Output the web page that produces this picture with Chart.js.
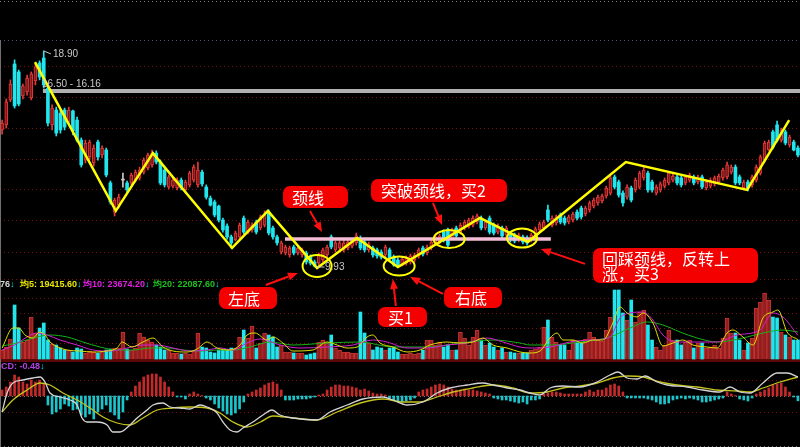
<!DOCTYPE html>
<html>
<head>
<meta charset="utf-8">
<script src="https://cdn.jsdelivr.net/npm/chart.js@4/dist/chart.umd.min.js"></script>
<style>
  html, body { margin: 0; padding: 0; background: #000; }
  #wrap { position: relative; width: 800px; height: 447px; overflow: hidden; background: #000; }
  #chart { position: absolute; left: 0; top: 0; }
  .lbl { position: absolute; font-family: "Liberation Sans", sans-serif; font-size: 10px; line-height: 10px; white-space: nowrap; color: #c8c8c8; }
  .hdr { position: absolute; font-family: "Liberation Sans", sans-serif; font-size: 9px; line-height: 10px; font-weight: bold; white-space: nowrap; }
  .hdr b { color: #00e8f0; }
  .box { position: absolute; box-sizing: border-box; background: #f40000; color: #fff; border-radius: 7px;
         font-family: "Noto Sans CJK SC", sans-serif; font-size: 16px; white-space: nowrap; }
</style>
</head>
<body>
<div id="wrap">
  <canvas id="chart" width="800" height="447"></canvas>

  <div class="lbl" style="left:53px;top:49px">18.90</div>
  <div class="lbl" style="left:42px;top:79px">16.50 - 16.16</div>
  <div class="lbl" style="left:325px;top:262px">9.93</div>

  <div class="hdr" style="left:0;top:279px;color:#d8d8d8">76<b>↓</b></div>
  <div class="hdr" style="left:20px;top:279px;color:#e8e800">均5: 19415.60<b>↓</b></div>
  <div class="hdr" style="left:83px;top:279px;color:#e020e0">均10: 23674.20<b>↓</b></div>
  <div class="hdr" style="left:153px;top:279px;color:#20c020">均20: 22087.60<b>↓</b></div>
  <div class="hdr" style="left:1px;top:361px;color:#b040e0">CD: -0.48<b>↓</b></div>

  <div class="box" style="left:283px;top:186px;width:65px;height:22px;line-height:22px;padding-left:9px">颈线</div>
  <div class="box" style="left:371px;top:179px;width:136px;height:23px;line-height:23px;padding-left:10px">突破颈线，买2</div>
  <div class="box" style="left:219px;top:287px;width:58px;height:22px;line-height:22px;padding-left:9px">左底</div>
  <div class="box" style="left:378px;top:307px;width:49px;height:20px;line-height:20px;padding-left:10px">买1</div>
  <div class="box" style="left:444px;top:287px;width:58px;height:21px;line-height:21px;padding-left:11px">右底</div>
  <div class="box" style="left:593px;top:248px;width:165px;height:35px;line-height:15px;padding:3px 0 0 9px;white-space:normal">回踩颈线，反转上<br>涨，买3</div>
</div>

<script>
// ============================================
// Data
// ============================================

const openP = [
  15.62, 15.83, 16.87, 18.36, 18.03, 17.03, 17.20, 16.95, 17.66, 18.40,
  18.61, 17.36, 15.83, 16.45, 16.32, 16.45, 15.95, 16.41, 16.03, 15.20,
  14.37, 14.50, 14.25, 15.12, 14.58, 14.79, 13.42, 12.21, 12.50, 13.54,
  13.42, 13.42, 13.54, 13.63, 13.87, 14.04, 14.17, 14.66, 14.29, 13.96,
  13.25, 13.29, 13.21, 13.54, 13.13, 13.34, 13.54, 13.34, 13.87, 13.25,
  12.79, 12.63, 12.46, 11.88, 11.63, 11.18, 11.05, 11.18, 11.96, 11.38,
  11.47, 11.80, 11.55, 11.67, 12.21, 11.55, 11.18, 10.55, 10.51, 10.43,
  10.76, 10.51, 10.43, 10.51, 10.34, 10.14, 10.09, 10.22, 10.43, 11.18,
  10.64, 10.72, 10.64, 10.72, 10.80, 10.93, 11.13, 10.97, 10.64, 10.72,
  10.64, 10.55, 10.43, 10.64, 10.34, 10.22, 10.01, 10.09, 10.14, 10.22,
  10.39, 10.72, 10.51, 10.72, 10.93, 10.97, 11.38, 11.47, 11.13, 11.55,
  11.38, 11.55, 11.63, 11.67, 11.80, 11.96, 11.55, 11.96, 11.67, 11.38,
  11.55, 11.26, 11.34, 11.26, 11.05, 11.18, 11.13, 11.05, 11.22, 11.47,
  11.55, 12.30, 11.67, 11.76, 12.09, 11.96, 11.80, 11.88, 12.21, 12.38,
  12.13, 12.30, 12.46, 12.59, 12.67, 12.88, 13.00, 13.67, 13.46, 13.00,
  12.83, 13.21, 13.13, 13.25, 13.63, 13.83, 13.46, 13.00, 13.13, 13.29,
  13.42, 13.54, 13.67, 13.63, 13.42, 13.54, 13.67, 13.46, 13.67, 13.21,
  13.29, 13.38, 13.46, 13.63, 13.67, 13.87, 14.08, 13.67, 13.21, 13.46,
  13.34, 13.54, 13.83, 14.37, 14.79, 15.54, 15.83, 15.20, 15.54, 15.00,
  15.12, 14.87
];

const closeP = [
  15.91, 16.79, 17.53, 16.62, 16.70, 17.45, 17.78, 17.95, 18.24, 17.82,
  17.49, 15.91, 16.53, 15.49, 15.62, 15.74, 16.45, 15.58, 15.20, 14.17,
  15.08, 15.12, 14.87, 14.50, 14.87, 13.75, 12.63, 12.71, 12.83, 13.54,
  13.13, 13.75, 13.87, 13.96, 14.37, 14.58, 14.66, 14.29, 13.42, 13.34,
  13.67, 13.54, 13.54, 13.21, 13.46, 13.83, 14.08, 13.96, 13.38, 12.83,
  12.50, 12.09, 11.88, 11.47, 11.18, 10.93, 11.34, 11.67, 11.38, 11.80,
  11.67, 11.38, 12.01, 12.09, 11.34, 11.18, 10.93, 10.93, 10.76, 10.72,
  10.51, 10.72, 10.64, 10.14, 10.09, 9.97, 10.43, 10.64, 10.76, 10.76,
  10.93, 10.93, 10.93, 10.97, 11.05, 11.22, 10.72, 10.64, 10.89, 10.43,
  10.39, 10.34, 10.76, 10.30, 10.01, 9.97, 10.26, 10.30, 10.39, 10.43,
  10.64, 10.47, 10.76, 10.97, 11.18, 11.22, 11.05, 10.84, 11.47, 11.22,
  11.67, 11.80, 11.88, 11.96, 12.05, 11.55, 11.80, 11.38, 11.34, 11.63,
  11.22, 11.55, 11.05, 11.01, 11.26, 10.97, 10.93, 11.26, 11.51, 11.72,
  11.80, 11.88, 11.96, 12.01, 11.80, 11.76, 12.01, 12.13, 11.96, 12.01,
  12.38, 12.59, 12.71, 12.83, 12.88, 13.21, 13.63, 13.25, 12.92, 12.59,
  13.25, 12.71, 13.54, 13.83, 13.96, 13.13, 13.13, 13.25, 13.38, 13.54,
  13.83, 13.71, 13.42, 13.34, 13.67, 13.75, 13.42, 13.67, 13.25, 13.46,
  13.54, 13.63, 13.71, 13.96, 14.17, 14.08, 13.42, 13.42, 13.46, 13.21,
  13.67, 14.08, 14.50, 15.08, 15.12, 14.91, 15.20, 15.62, 15.08, 15.33,
  14.79, 14.58
];

const highP = [
  16.03, 16.91, 17.70, 18.53, 18.11, 17.53, 17.90, 18.03, 18.36, 18.49,
  18.90, 17.45, 16.66, 16.57, 16.45, 16.53, 16.57, 16.45, 16.16, 15.29,
  15.20, 15.20, 15.00, 15.20, 14.96, 14.87, 13.50, 12.79, 12.96, 13.83,
  13.50, 13.83, 13.96, 14.08, 14.46, 14.66, 14.79, 14.75, 14.37, 14.04,
  13.75, 13.63, 13.63, 13.63, 13.54, 13.91, 14.17, 14.29, 13.96, 13.34,
  12.88, 12.71, 12.50, 11.96, 11.72, 11.26, 11.42, 11.76, 12.05, 11.88,
  11.76, 11.88, 12.09, 12.26, 12.30, 11.63, 11.26, 11.01, 10.84, 10.80,
  10.84, 10.80, 10.72, 10.59, 10.43, 10.22, 10.51, 10.72, 10.84, 11.26,
  11.01, 11.01, 11.05, 11.05, 11.13, 11.34, 11.22, 11.05, 10.97, 10.80,
  10.72, 10.64, 10.84, 10.72, 10.43, 10.30, 10.34, 10.39, 10.47, 10.51,
  10.72, 10.80, 10.84, 11.05, 11.26, 11.30, 11.47, 11.55, 11.55, 11.63,
  11.76, 11.88, 11.96, 12.05, 12.13, 12.05, 11.88, 12.05, 11.76, 11.72,
  11.63, 11.63, 11.42, 11.34, 11.34, 11.26, 11.22, 11.34, 11.59, 11.80,
  11.88, 12.50, 12.05, 12.09, 12.17, 12.05, 12.09, 12.21, 12.30, 12.46,
  12.46, 12.67, 12.79, 12.92, 12.96, 13.29, 13.71, 13.75, 13.54, 13.09,
  13.34, 13.29, 13.63, 13.91, 14.08, 13.91, 13.54, 13.34, 13.46, 13.63,
  13.91, 13.79, 13.75, 13.71, 13.75, 13.83, 13.75, 13.75, 13.75, 13.54,
  13.63, 13.71, 13.79, 14.04, 14.29, 14.17, 14.17, 13.75, 13.54, 13.54,
  13.75, 14.17, 14.58, 15.16, 15.20, 15.62, 15.99, 15.70, 15.62, 15.41,
  15.20, 14.96
];

const lowP = [
  15.45, 15.70, 16.79, 16.53, 16.62, 16.91, 17.07, 16.87, 17.49, 17.70,
  17.36, 15.79, 15.62, 15.37, 15.49, 15.62, 15.83, 15.41, 15.12, 14.08,
  14.25, 14.37, 14.12, 14.37, 14.46, 13.67, 12.54, 12.05, 12.38, 13.25,
  13.04, 13.34, 13.46, 13.54, 13.79, 13.96, 14.08, 14.21, 13.34, 13.25,
  13.17, 13.21, 13.13, 13.13, 13.04, 13.25, 13.46, 13.25, 13.29, 12.75,
  12.46, 12.01, 11.80, 11.38, 11.09, 10.72, 11.01, 11.09, 11.30, 11.30,
  11.38, 11.30, 11.47, 11.59, 11.26, 11.09, 10.84, 10.47, 10.43, 10.34,
  10.43, 10.43, 10.34, 10.05, 10.01, 9.93, 10.01, 10.14, 10.34, 10.68,
  10.55, 10.64, 10.55, 10.64, 10.72, 10.84, 10.64, 10.55, 10.55, 10.34,
  10.30, 10.26, 10.34, 10.22, 9.96, 9.95, 9.97, 10.01, 10.05, 10.14,
  10.30, 10.39, 10.43, 10.64, 10.84, 10.89, 10.97, 10.76, 11.05, 11.13,
  11.30, 11.47, 11.55, 11.59, 11.72, 11.47, 11.47, 11.30, 11.26, 11.30,
  11.13, 11.18, 10.97, 10.93, 10.97, 10.89, 10.84, 10.97, 11.13, 11.38,
  11.47, 11.80, 11.59, 11.67, 11.72, 11.67, 11.72, 11.80, 11.88, 11.92,
  12.05, 12.21, 12.38, 12.50, 12.59, 12.79, 12.92, 13.17, 12.83, 12.46,
  12.75, 12.63, 13.04, 13.17, 13.54, 13.04, 13.04, 12.92, 13.04, 13.21,
  13.34, 13.46, 13.34, 13.25, 13.34, 13.46, 13.34, 13.38, 13.17, 13.13,
  13.21, 13.29, 13.38, 13.54, 13.59, 13.79, 13.34, 13.34, 13.13, 13.09,
  13.25, 13.46, 13.75, 14.29, 14.75, 14.83, 15.12, 15.12, 15.00, 14.91,
  14.75, 14.50
];

const volume = [
   9000, 12000, 20000, 54000, 31000, 17000, 19000, 42000, 26000, 31000,
  36000, 19000, 15000, 14000, 11000,  9000,  9000,  7000, 11000, 10000,
   6000,  8000,  7000,  6000,  8000,  9000, 10000, 11000, 11000, 27000,
  10000,  9000, 11000, 26000, 22000, 19000, 17000, 14000, 12000,  9000,
   9000,  6000,  6000,  5000,  6000,  5000,  8000, 26000, 12000, 11000,
   7000,  6000,  9000,  9000,  9000, 11000, 11000, 22000, 29000, 21000,
  33000, 11000, 16000, 26000, 24000, 22000, 12000, 14000,  7000,  7000,
   6000,  6000,  6000,  4000,  5000,  6000, 17000, 19000, 16000, 24000,
  11000,  9000,  7000,  7000,  6000,  6000, 47000, 26000, 16000,  9000,
  12000, 11000,  9000, 11000, 12000,  7000,  5000,  5000,  6000,  5000,
   6000,  9000, 19000, 19000, 14000, 17000, 12000, 14000,  9000,  9000,
  27000, 21000, 14000, 22000, 29000, 19000, 14000, 16000, 12000,  9000,
  11000,  7000,  7000,  6000,  6000,  6000,  6000,  9000, 10000, 12000,
  32000, 39000, 22000, 17000, 14000, 14000,  9000, 19000, 17000, 16000,
  20000, 27000, 22000, 19000, 18000, 29000, 42000, 69000, 69000, 46000,
  39000, 59000, 37000, 47000, 49000, 34000, 19000, 12000,  9000, 14000,
  29000, 19000, 19000, 14000, 17000, 19000, 11000, 16000, 16000, 11000,
  12000, 14000, 11000, 21000, 41000, 26000, 26000, 19000,  9000, 16000,
  21000, 51000, 57000, 66000, 59000, 42000, 41000, 27000, 24000, 22000,
  19000, 19000
];

const macdHist = [
  0.6, 0.9, 1.4, 2.1, 1.9, 1.4, 1.2, 1.6, 1.4, 1.6,
  1.2, -0.9, -1.8, -1.6, -1.3, -0.8, -1.0, -1.4, -1.3, -1.9,
  -2.1, -1.8, -2.3, -1.6, -1.3, -0.9, -1.6, -1.9, -2.3, -1.6,
  -0.4, 0.4, 1.0, 1.4, 1.9, 2.1, 2.2, 2.2, 1.9, 1.4,
  0.9, 0.4, -0.1, -0.1, -0.3, 0.2, 0.4, 0.2, 0.05, -0.2,
  -0.4, -0.8, -1.2, -1.5, -1.8, -1.9, -1.7, -1.3, -0.6, 0.2,
  0.4, 0.6, 0.8, 1.1, 1.3, 1.4, 1.2, 0.6, -0.4, -0.4,
  -0.4, -0.3, -0.3, -0.3, -0.2, -0.1, 0.1, 0.2, 0.6, 0.9,
  1.1, 1.1, 1.0, 1.0, 0.9, 0.8, 0.6, 0.7, 0.5, 0.3,
  0.2, 0.2, 0.1, -0.2, -0.4, -0.5, -0.6, -0.5, -0.4, -0.2,
  0.4, 0.6, 0.7, 0.9, 1.1, 1.2, 1.1, 0.9, 0.7, 0.6,
  0.6, 0.7, 0.6, 0.6, 0.5, 0.4, 0.3, 0.2, -0.2, -0.3,
  -0.4, -0.4, -0.5, -0.6, -0.7, -0.6, -0.8, -0.4, -0.4, -0.3,
  0.2, 0.3, 0.4, 0.4, 0.3, 0.2, 0.2, 0.2, 0.2, 0.2,
  0.4, 0.6, 0.4, 0.6, 0.6, 0.8, 1.1, 1.2, 1.0, 0.4,
  -0.2, -0.2, -0.2, -0.2, -0.2, -0.3, -0.4, -0.6, -0.8, -0.8,
  -0.7, -0.4, -0.3, -0.2, -0.3, -0.2, -0.3, -0.4, -0.6, -0.6,
  -0.5, -0.4, -0.3, -0.2, 0.4, 0.2, 0.05, -0.3, -0.4, -0.5,
  -0.2, 0.2, 0.4, 0.6, 0.8, 1.1, 1.2, 1.3, 0.9, 0.4,
  -0.1, -0.48
];

// volume moving averages, [candle index, volume]
const ma5 = [
  [0, 11000], [2.6, 31000], [4, 31000], [5.5, 24000], [7.4, 21000], [9, 27000], [10.3, 24000],
  [11.5, 17000], [13.4, 12000], [15.6, 9000], [18.7, 8000], [21.8, 7000], [25.2, 8000],
  [27.6, 11000], [28.8, 17000], [31.2, 12000], [33.8, 17000], [36.2, 21000], [38.6, 12000],
  [41, 8000], [44.4, 7000], [46.8, 10000], [49.2, 17000], [51.6, 11000], [54.7, 9000],
  [57.1, 14000], [58.8, 24000], [60.7, 26000], [63.6, 19000], [65, 22000], [67.4, 16000],
  [69.8, 8000], [74.6, 9000], [78, 17000], [80.4, 14000], [82.8, 11000], [85.2, 12000],
  [87.6, 22000], [89, 24000], [90.7, 16000], [93.8, 12000], [97.2, 7000], [100.3, 9000],
  [102.7, 14000], [106.8, 17000], [109.9, 16000], [113, 17000], [115.4, 21000], [117.8, 14000],
  [121.2, 11000], [124.3, 7000], [126.7, 6000], [129.1, 8000], [131.5, 21000], [133.2, 26000],
  [134.6, 19000], [137, 19000], [139.4, 16000], [141.8, 19000], [144.2, 19000], [146.6, 36000],
  [148.3, 52000], [150, 46000], [152.4, 42000], [153.8, 46000], [156.2, 36000], [158.6, 13000],
  [161, 16000], [163.4, 19000], [165.8, 14000], [169.2, 12000], [171.6, 11000], [174, 26000],
  [175.4, 29000], [177.8, 22000], [180.2, 14000], [182.6, 41000], [185, 47000], [186.2, 49000],
  [188.4, 27000], [191, 19416]
];
const ma10 = [
  [0, 9000], [3, 14000], [6, 22000], [8.4, 26000], [10.8, 24000], [13.9, 19000], [18, 14000],
  [21.8, 9000], [25.9, 8000], [30, 11000], [33.8, 14000], [37.2, 14000], [41, 11000],
  [45.1, 8000], [49.2, 9000], [52.3, 11000], [55.4, 9000], [58.8, 16000], [61.9, 20000],
  [66.7, 14000], [71.5, 11000], [78, 12000], [84.2, 14000], [89, 19000], [92.4, 17000],
  [97.2, 11000], [102, 11000], [106.8, 14000], [111.6, 16000], [116.4, 21000], [120.2, 17000],
  [124.3, 12000], [126.7, 11000], [131.5, 12000], [136.3, 17000], [141.1, 19000], [145.9, 22000],
  [148.3, 41000], [150.7, 46000], [153.8, 47000], [156.2, 39000], [158.6, 24000], [162, 17000],
  [166.8, 17000], [171.6, 17000], [176.4, 24000], [181.9, 29000], [185, 46000], [187.4, 42000],
  [191, 23674]
];
const ma20 = [
  [0, 13000], [3.6, 16000], [7.4, 21000], [11.5, 24000], [15.6, 22000], [19.4, 17000],
  [23.5, 12000], [27.6, 9000], [31.4, 9000], [35.5, 11000], [39.6, 11000], [43.4, 9000],
  [47.5, 8000], [51.6, 9000], [55.4, 9000], [59.5, 12000], [64.3, 17000], [69.8, 14000],
  [78, 16000], [85.9, 17000], [93.8, 12000], [102, 12000], [109.9, 16000], [117.8, 19000],
  [124.3, 16000], [126.7, 14000], [131.5, 14000], [138.7, 17000], [145.9, 22000], [150.7, 31000],
  [154.8, 37000], [158.6, 34000], [162.7, 27000], [166.8, 21000], [171.6, 17000], [177.8, 21000],
  [182.6, 26000], [187.4, 29000], [191, 27000]
];

// MACD lines, [candle index, value]
const dif = [
  [0, -1.6], [1.2, 0.3], [2.6, 1.3], [5, 1.6], [7.4, 1.8], [9.1, 1.9], [10.3, 1.4], [11.5, 0.3],
  [13.9, -0.1], [16.3, -0.4], [18, -0.9], [19.2, -2.2], [20.4, -2.6], [22.8, -2.6], [25.2, -2.9],
  [26.6, -3.6], [28.3, -3.6], [30.7, -2.9], [32.4, -2.2], [34.8, -1.4], [36.2, -0.9], [38.6, -0.7],
  [40.3, -1.1], [42.7, -1.2], [45.1, -1.3], [47.5, -0.9], [49.2, -1.1], [51.6, -1.7], [53, -2.6],
  [54.7, -3.4], [56.4, -3.6], [57.8, -3.2], [60.2, -2.6], [62.6, -1.9], [64.8, -1.4], [66.7, -1.9],
  [69.8, -2.2], [75.6, -2.4], [78.7, -1.6], [82.8, -0.9], [86.6, -0.3], [91.4, -0.1], [93.8, -0.4],
  [97.2, -0.9], [101, -0.6], [104.4, 0.3], [107.5, 0.8], [111.6, 1.1], [115.4, 1.3], [117.8, 1.1],
  [121.2, 0.8], [124.3, 0.6], [126.7, 0.3], [129.1, 0.1], [131.5, 0.8], [134.6, 1.0], [138.7, 0.9],
  [142.8, 1.4], [145.9, 2.1], [147.8, 2.4], [150, 1.8], [152.4, 1.7], [154.3, 2.0], [157.2, 1.4],
  [159.6, 1.1], [164.4, 0.9], [168.2, 0.6], [172.3, 0.4], [174.7, 0.9], [177.1, 0.4], [179.5, 0.3],
  [182.6, 1.3], [186, 2.3], [188.4, 2.3], [191, 1.9]
];
const dea = [
  [0, -1.6], [2.6, -0.4], [6, 0.6], [9.1, 1.3], [11.5, 1.1], [14.6, 0.3], [18, -0.4], [21.1, -1.2],
  [24.2, -2.1], [27.6, -2.7], [30.7, -2.9], [33.8, -2.2], [37.2, -1.4], [41, -1.2], [45.1, -1.1],
  [49.2, -1.2], [52.3, -1.7], [55.4, -2.6], [58.8, -3.1], [62, -2.6], [65, -2.0], [69.8, -2.2],
  [75.6, -2.4], [80.4, -1.6], [86, -0.7], [91.4, -0.3], [96.2, -0.6], [100.3, -0.6], [104.4, -0.1],
  [108.2, 0.4], [113, 0.8], [117.8, 1.1], [122.6, 0.8], [126.7, 0.3], [130.8, 0.4], [134.6, 0.8],
  [138.7, 1.0], [142.8, 1.3], [146.6, 1.8], [150, 2.0], [153.8, 1.9], [157.9, 1.4], [162, 1.1],
  [166.8, 0.9], [171.6, 0.6], [176.4, 0.5], [179.5, 0.4], [182.6, 0.8], [186.7, 1.4], [191, 1.9]
];

// hand drawn pattern marks, [candle index, price]
const zigzag = [
  [7.9, 18.44], [27.3, 12.26], [36.2, 14.66], [55.2, 10.72], [63.8, 12.26], [75.6, 9.89],
  [85.2, 11.13], [95.0, 9.93], [114.7, 11.97], [126.2, 10.97], [149.7, 14.29], [178.8, 13.13],
  [188.9, 16.03]
];
const neckline = [[67.9, 11.09], [131.7, 11.09]];
const pressBand = [[9.8, 17.24], [191.5, 17.24]];
const circles = [[75.6, 9.97], [95.3, 9.97], [107.3, 11.09], [124.8, 11.13]];
const arrows = [
  [[73.9, 12.26], [76.8, 11.38]],
  [[103.4, 12.59], [105.6, 11.67]],
  [[63.3, 9.18], [71.0, 9.68]],
  [[94.5, 8.31], [93.8, 9.43]],
  [[105.8, 8.81], [97.9, 9.52]],
  [[139.9, 10.06], [129.3, 10.68]]
];
const leaders = [
  [[10.0, 18.90], [11.7, 18.78]],
  [[75.4, 9.93], [77.4, 9.93]]
];

// grid / frame values per panel
const frameLines = [20.98, 19.36];
const priceGrid = [18.28, 16.99, 15.70, 14.41, 13.17, 11.88, 10.55];
const volGrid = [80000, 61000, 46000, 31000, 16000];
const macdGrid = [1.6, -1.6];
const macdFloor = -5.0;

// ============================================
// Layout
// ============================================

const H = 447;
const CIRCLE_R = [[14.5, 11], [15.5, 9.5], [15.5, 9], [15, 9.5]];
const COLORS = {
  upFill: '#7e1616', upLine: '#e63a3a',
  down: '#22e6ee', doji: '#c8c8c8',
  volUp: '#941e1e', volUpLine: '#c83434',
  macdUp: '#c42a2a', macdDown: '#1cc4cc',
  grid: '#7c1010'
};

// axis min/max so that value v1 sits at pixel px1 and v2 at px2
function axisRange(v1, px1, v2, px2) {
  const s = (px2 - px1) / (v1 - v2);
  return { min: v2 - (H - px2) / s, max: v1 + px1 / s };
}
const priceRange = axisRange(18.90, 51, 9.93, 267);
const volRange = axisRange(80000, 279, 0, 359);
const macdRange = axisRange(1.6, 380, 0, 396);

const N = openP.length;
const dir = closeP.map((c, i) => Math.sign(c - openP[i]));
const pts = arr => arr.map(p => ({ x: p[0], y: p[1] }));

const candleColor = i => dir[i] > 0 ? COLORS.upLine : dir[i] < 0 ? COLORS.down : COLORS.doji;

// ============================================
// Plugins: panel grid + annotations
// ============================================

const panelGrid = {
  id: 'panelGrid',
  beforeDatasetsDraw(chart) {
    const { ctx, chartArea: a, scales: s } = chart;
    const hline = (scale, v, color) => {
      const y = Math.round(scale.getPixelForValue(v)) + 0.5;
      ctx.strokeStyle = color;
      ctx.beginPath();
      ctx.moveTo(a.left, y);
      ctx.lineTo(a.right, y);
      ctx.stroke();
    };
    ctx.save();
    ctx.lineWidth = 1;
    ctx.setLineDash([1, 3]);
    hline(s.yPrice, frameLines[0], '#808080');
    hline(s.yPrice, frameLines[1], '#56567a');
    priceGrid.forEach(v => hline(s.yPrice, v, COLORS.grid));
    volGrid.forEach(v => hline(s.yVol, v, COLORS.grid));
    macdGrid.forEach(v => hline(s.yMacd, v, COLORS.grid));
    hline(s.yMacd, 0, '#7a7a7a');
    hline(s.yMacd, macdFloor, '#6a6a6a');
    ctx.setLineDash([]);
    ctx.lineWidth = 3;
    ctx.strokeStyle = '#5a0808';
    const yb = s.yVol.getPixelForValue(0) + 1.5;
    ctx.beginPath();
    ctx.moveTo(a.left, yb);
    ctx.lineTo(a.right, yb);
    ctx.stroke();
    // thin left frame edge below the top separator
    ctx.lineWidth = 1;
    ctx.strokeStyle = '#707070';
    ctx.beginPath();
    ctx.moveTo(a.left + 0.5, s.yPrice.getPixelForValue(frameLines[1]));
    ctx.lineTo(a.left + 0.5, a.bottom);
    ctx.stroke();
    ctx.restore();
  }
};

const marks = {
  id: 'marks',
  afterDatasetsDraw(chart) {
    const { ctx, scales: s } = chart;
    const px = p => [s.x.getPixelForValue(p[0]), s.yPrice.getPixelForValue(p[1])];
    ctx.save();

    // yellow circles round the bottoms / breakout points
    ctx.strokeStyle = '#ffff00';
    ctx.lineWidth = 2;
    circles.forEach((c, k) => {
      const [cx, cy] = px(c);
      ctx.beginPath();
      ctx.ellipse(cx, cy, CIRCLE_R[k][0], CIRCLE_R[k][1], 0, 0, Math.PI * 2);
      ctx.stroke();
    });

    // small price leaders
    ctx.strokeStyle = '#c8c8c8';
    ctx.lineWidth = 1;
    leaders.forEach(l => {
      const [x1, y1] = px(l[0]);
      const [x2, y2] = px(l[1]);
      ctx.beginPath();
      ctx.moveTo(x1, y1);
      ctx.lineTo(x2, y2);
      ctx.stroke();
    });

    // red arrows
    ctx.strokeStyle = '#ff1010';
    ctx.fillStyle = '#ff1010';
    ctx.lineWidth = 2;
    arrows.forEach(a => {
      const [x1, y1] = px(a[0]);
      const [x2, y2] = px(a[1]);
      const ang = Math.atan2(y2 - y1, x2 - x1);
      const len = 10, hw = 4;
      const bx = x2 - len * Math.cos(ang), by = y2 - len * Math.sin(ang);
      ctx.beginPath();
      ctx.moveTo(x1, y1);
      ctx.lineTo(bx, by);
      ctx.stroke();
      ctx.beginPath();
      ctx.moveTo(x2, y2);
      ctx.lineTo(bx + hw * Math.sin(ang), by - hw * Math.cos(ang));
      ctx.lineTo(bx - hw * Math.sin(ang), by + hw * Math.cos(ang));
      ctx.closePath();
      ctx.fill();
    });
    ctx.restore();
  }
};

// ============================================
// Datasets
// ============================================

const idx = [...Array(N).keys()];

const datasets = [
  {
    type: 'line', label: 'zigzag', yAxisID: 'yPrice', order: 0,
    data: pts(zigzag), borderColor: '#ffff00', borderWidth: 2.5, pointRadius: 0, tension: 0
  },
  {
    type: 'line', label: 'neck', yAxisID: 'yPrice', order: 1,
    data: pts(neckline), borderColor: '#f4bcd6', borderWidth: 3.5, pointRadius: 0
  },
  {
    type: 'bar', label: 'body', yAxisID: 'yPrice', order: 3, grouped: false,
    data: idx.map(i => ({ x: i, y: [openP[i], closeP[i]] })),
    barThickness: 3, minBarLength: 1, borderSkipped: false,
    backgroundColor: c => dir[c.dataIndex] > 0 ? COLORS.upFill : candleColor(c.dataIndex),
    borderColor: c => candleColor(c.dataIndex),
    borderWidth: c => dir[c.dataIndex] > 0 ? 1 : 0
  },
  {
    type: 'bar', label: 'wick', yAxisID: 'yPrice', order: 4, grouped: false,
    data: idx.map(i => ({ x: i, y: [lowP[i], highP[i]] })),
    barThickness: 1, backgroundColor: c => candleColor(c.dataIndex)
  },
  {
    type: 'line', label: 'band', yAxisID: 'yPrice', order: 6,
    data: pts(pressBand), borderColor: '#b0b0b0', borderWidth: 4, pointRadius: 0
  },
  {
    type: 'bar', label: 'volUp', yAxisID: 'yVol', order: 4, grouped: false,
    data: idx.filter(i => dir[i] >= 0).map(i => ({ x: i, y: volume[i] })),
    barThickness: 4, backgroundColor: COLORS.volUp, borderColor: COLORS.volUpLine,
    borderWidth: 1, borderSkipped: 'bottom'
  },
  {
    type: 'bar', label: 'volDown', yAxisID: 'yVol', order: 4, grouped: false,
    data: idx.filter(i => dir[i] < 0).map(i => ({ x: i, y: volume[i] })),
    barThickness: 3, backgroundColor: COLORS.down
  },
  {
    type: 'line', label: 'MA5', yAxisID: 'yVol', order: 1,
    data: pts(ma5), borderColor: '#e0e000', borderWidth: 1, pointRadius: 0, cubicInterpolationMode: 'monotone'
  },
  {
    type: 'line', label: 'MA10', yAxisID: 'yVol', order: 1,
    data: pts(ma10), borderColor: '#d020d0', borderWidth: 1, pointRadius: 0, cubicInterpolationMode: 'monotone'
  },
  {
    type: 'line', label: 'MA20', yAxisID: 'yVol', order: 1,
    data: pts(ma20), borderColor: '#18b018', borderWidth: 1, pointRadius: 0, cubicInterpolationMode: 'monotone'
  },
  {
    type: 'bar', label: 'MACD', yAxisID: 'yMacd', order: 4, grouped: false,
    data: idx.map(i => ({ x: i, y: macdHist[i] })),
    barThickness: 2,
    backgroundColor: c => macdHist[c.dataIndex] >= 0 ? COLORS.macdUp : COLORS.macdDown
  },
  {
    type: 'line', label: 'DIF', yAxisID: 'yMacd', order: 1,
    data: pts(dif), borderColor: '#d4d4d4', borderWidth: 1.3, pointRadius: 0, cubicInterpolationMode: 'monotone'
  },
  {
    type: 'line', label: 'DEA', yAxisID: 'yMacd', order: 1,
    data: pts(dea), borderColor: '#c4c41c', borderWidth: 1.3, pointRadius: 0, cubicInterpolationMode: 'monotone'
  }
];

// ============================================
// Chart
// ============================================

new Chart(document.getElementById('chart'), {
  type: 'bar',
  data: { datasets },
  options: {
    responsive: false,
    devicePixelRatio: 1,
    animation: false,
    events: [],
    layout: { padding: 0 },
    plugins: { legend: { display: false }, tooltip: { enabled: false } },
    scales: {
      x: { type: 'linear', offset: false, min: -0.5, max: N - 0.5, display: false },
      yPrice: { type: 'linear', min: priceRange.min, max: priceRange.max, display: false },
      yVol: { type: 'linear', min: volRange.min, max: volRange.max, display: false },
      yMacd: { type: 'linear', min: macdRange.min, max: macdRange.max, display: false }
    }
  },
  plugins: [panelGrid, marks]
});
</script>
</body>
</html>
